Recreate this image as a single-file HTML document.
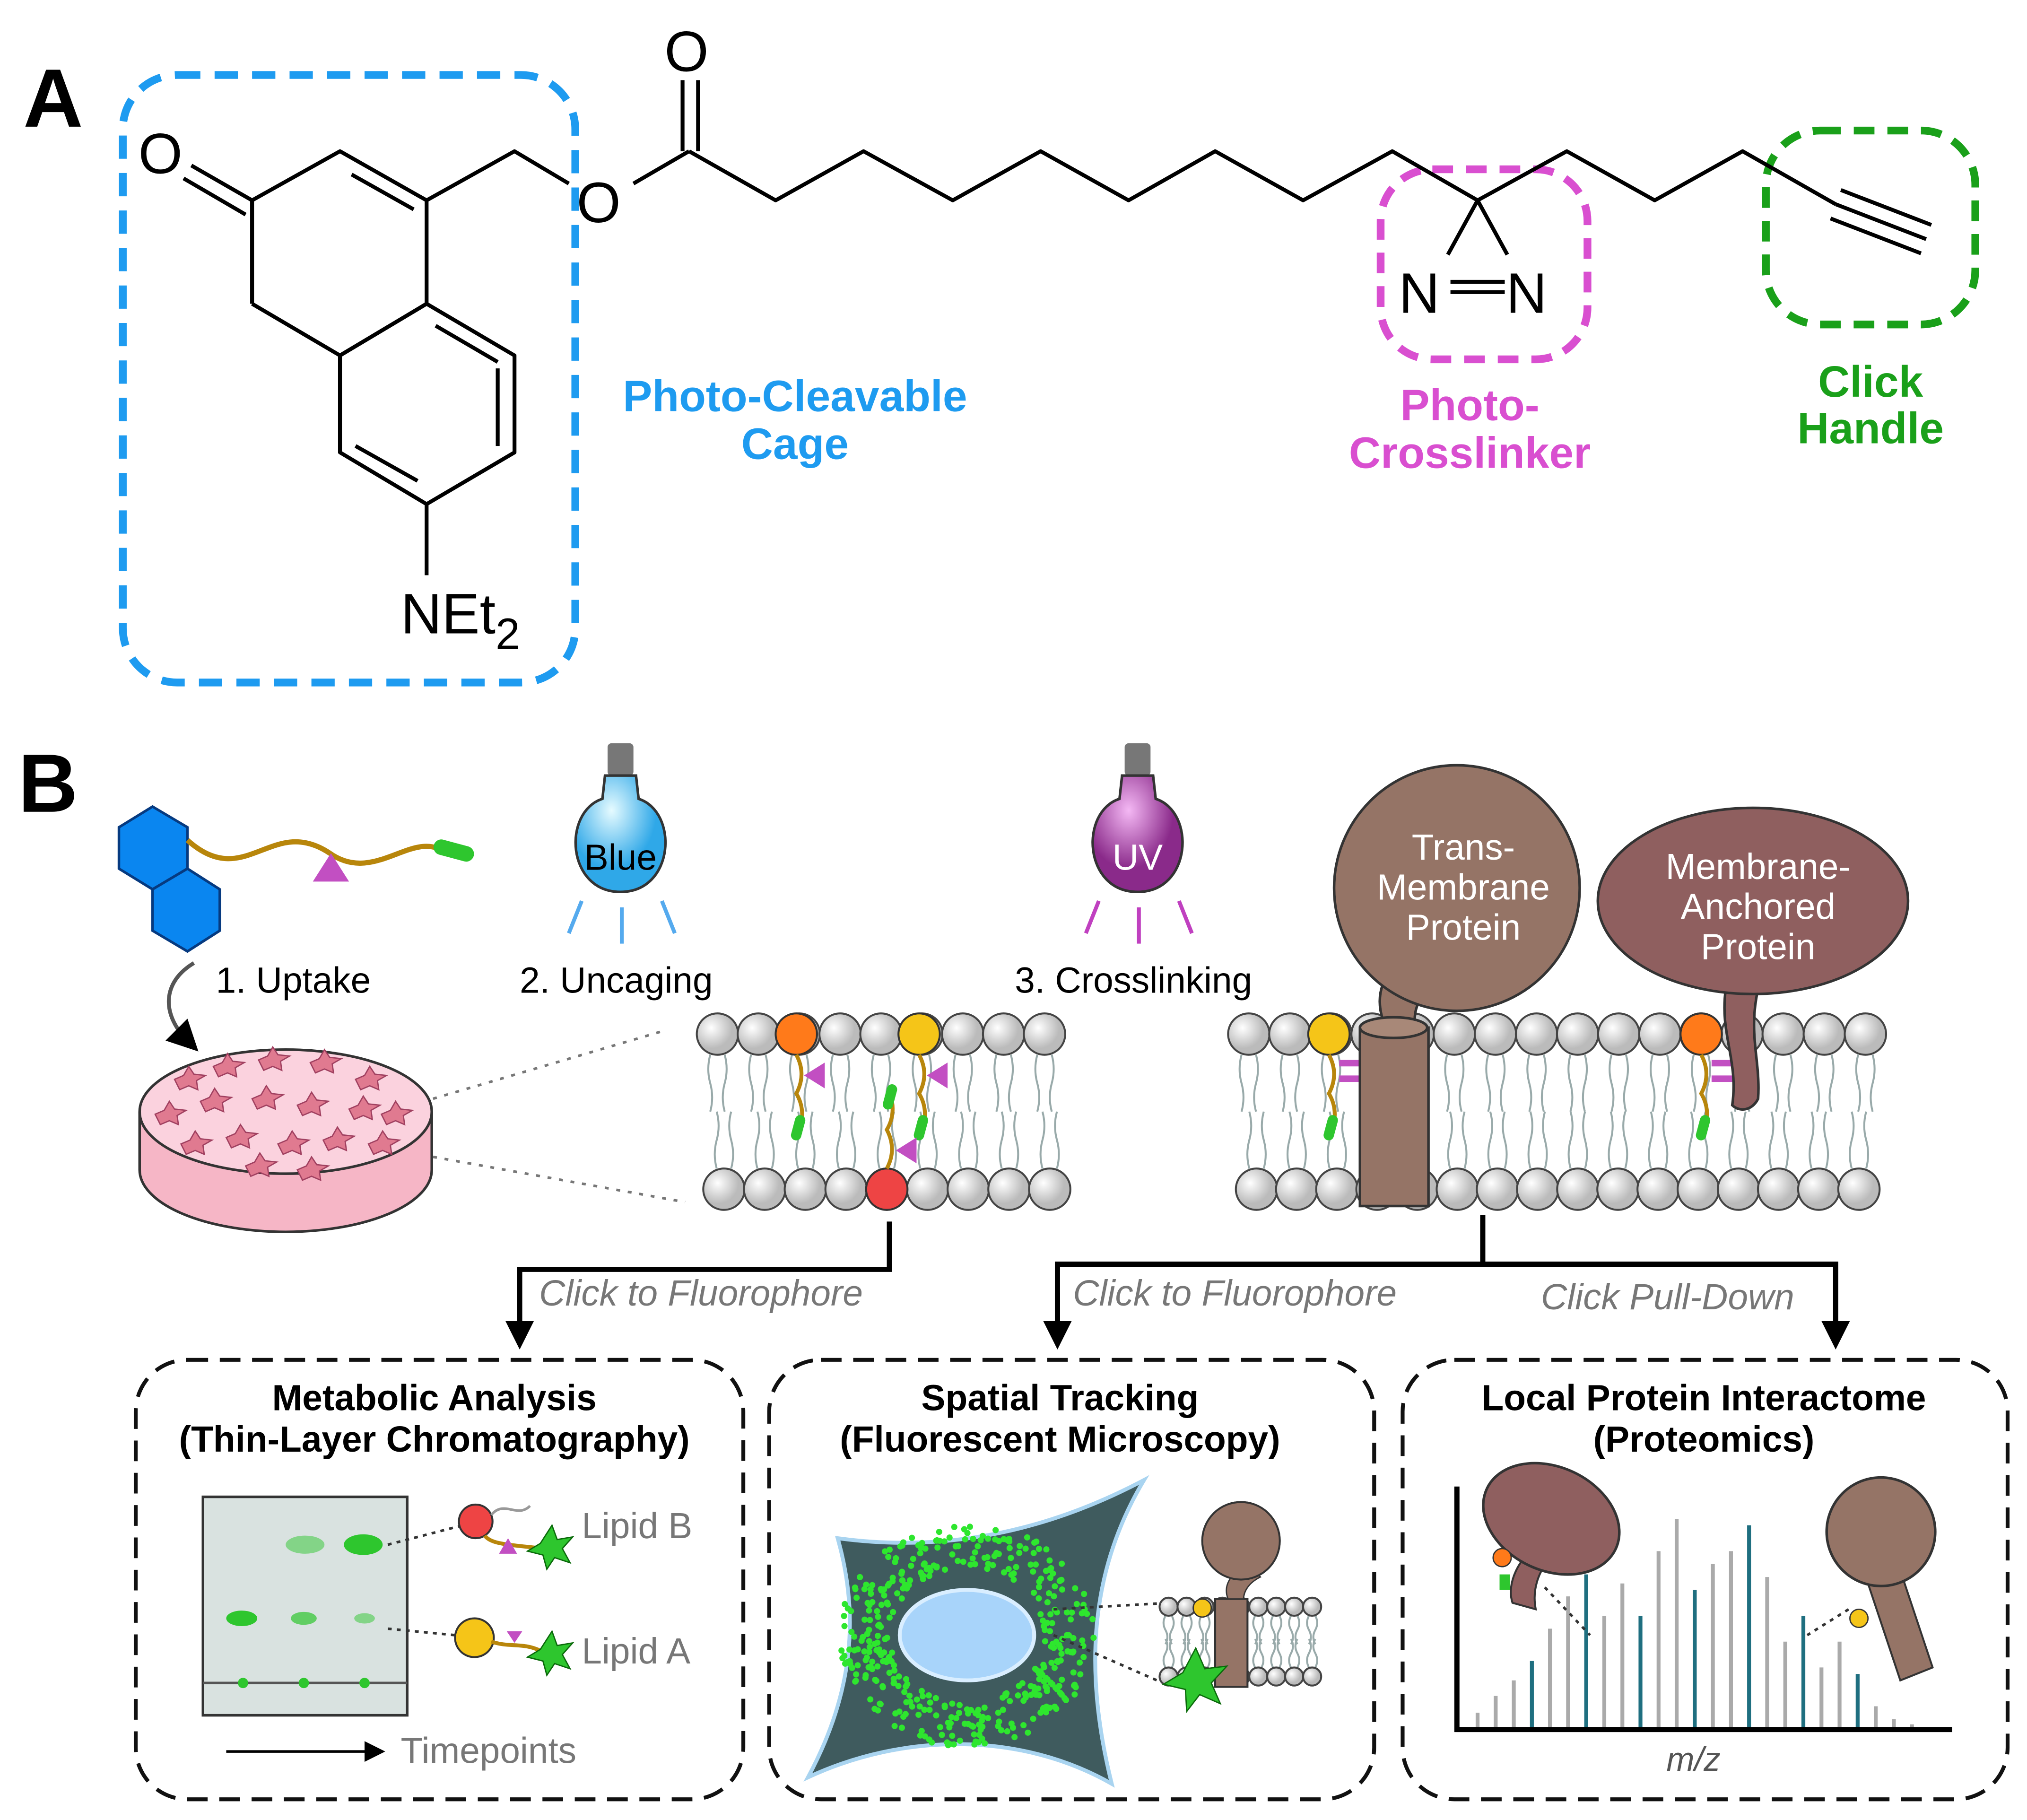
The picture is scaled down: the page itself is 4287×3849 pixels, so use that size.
<!DOCTYPE html>
<html><head><meta charset="utf-8"><style>
html,body{margin:0;padding:0;background:#fff}
svg{display:block}
text{font-family:"Liberation Sans",sans-serif}
</style></head><body>
<svg id="s" xmlns="http://www.w3.org/2000/svg" width="4287" height="3849" viewBox="0 0 1568 1408" preserveAspectRatio="none">
<defs>
<marker id="ar" markerWidth="8" markerHeight="8" refX="4" refY="4" orient="auto" markerUnits="strokeWidth"><path d="M0,0 L8,4 L0,8z" fill="#000"/></marker>
<marker id="ar2" markerWidth="24" markerHeight="24" refX="4" refY="12" orient="auto" markerUnits="userSpaceOnUse"><path d="M0,1 L22,12 L0,23z" fill="#000"/></marker>
<radialGradient id="bl" cx="0.4" cy="0.3"><stop offset="0" stop-color="#e6fbff"/><stop offset="1" stop-color="#2fa8e8"/></radialGradient>
<radialGradient id="uv" cx="0.4" cy="0.3"><stop offset="0" stop-color="#f4b8f4"/><stop offset="1" stop-color="#8a2a8a"/></radialGradient>
<radialGradient id="hd" cx="0.35" cy="0.35"><stop offset="0" stop-color="#fff"/><stop offset="1" stop-color="#bbb"/></radialGradient>
</defs>
<!-- Part A -->
<text x="18" y="98" font-size="64" font-weight="bold">A</text>
<rect x="95" y="58" width="350" height="470" rx="42" fill="none" stroke="#1e9bf0" stroke-width="6" stroke-dasharray="18,11"/>
<rect x="1068" y="131" width="160" height="147" rx="40" fill="none" stroke="#d94fd0" stroke-width="6" stroke-dasharray="16,10"/>
<rect x="1366" y="101" width="162" height="150" rx="42" fill="none" stroke="#1aa01a" stroke-width="6" stroke-dasharray="16,10"/>
<g stroke="#000" stroke-width="3" fill="none" stroke-linejoin="round">
<polyline points="195,235 195,155 263,117 330,155 330,235 263,275 195,235"/>
<line x1="272" y1="135" x2="320" y2="162"/>
<polygon points="330,235 398,275 398,350 330,390 263,350 263,275"/>
<line x1="337" y1="252" x2="385" y2="280"/><line x1="385" y1="285" x2="385" y2="345"/><line x1="275" y1="345" x2="323" y2="372"/>
<line x1="195" y1="155" x2="148" y2="128"/><line x1="190" y1="166" x2="142" y2="138"/>
<polyline points="330,155 398,117 440,142"/>
<line x1="490" y1="142" x2="533" y2="117"/>
<line x1="528" y1="117" x2="528" y2="62"/><line x1="540" y1="117" x2="540" y2="62"/>
<polyline points="533,117 600,155 668,117 737,155 805,117 873,155 940,117 1008,155 1077,117 1143,155 1212,117 1280,155 1348,117 1420,158"/>
<line x1="330" y1="390" x2="330" y2="445"/>
<line x1="1143" y1="155" x2="1120" y2="197"/><line x1="1143" y1="155" x2="1166" y2="197"/>
<line x1="1122" y1="218" x2="1164" y2="218"/><line x1="1122" y1="226" x2="1164" y2="226"/>
<line x1="1420" y1="158" x2="1490" y2="185"/><line x1="1424" y1="147" x2="1494" y2="174"/><line x1="1416" y1="169" x2="1486" y2="196"/>
</g>
<g font-size="44">
<text x="107" y="134">O</text><text x="446" y="172">O</text><text x="514" y="55">O</text>
<text x="310" y="490">NEt<tspan font-size="34" dy="12">2</tspan></text>
<text x="1082" y="242">N</text><text x="1165" y="242">N</text>
</g>
<g font-size="34" font-weight="bold" text-anchor="middle">
<text x="615" y="318" fill="#1e9bf0">Photo-Cleavable</text><text x="615" y="355" fill="#1e9bf0">Cage</text>
<text x="1137" y="325" fill="#d94fd0">Photo-</text><text x="1137" y="362" fill="#d94fd0">Crosslinker</text>
<text x="1447" y="307" fill="#1aa01a">Click</text><text x="1447" y="343" fill="#1aa01a">Handle</text>
</g>
<!-- Part B -->
<text x="14" y="628" font-size="64" font-weight="bold">B</text>
<g fill="#0a86f0" stroke="#063a80" stroke-width="2">
<polygon points="118,624 145,640 145,672 118,688 92,672 92,640"/>
<polygon points="145,672 170,688 170,720 145,736 118,720 118,688"/>
</g>
<path d="M145,650 C190,690 210,630 255,660 C290,685 320,640 345,660" stroke="#b8860b" stroke-width="4" fill="none"/>
<polygon points="256,660 242,682 270,682" fill="#c24fc2"/>
<rect x="335" y="652" width="32" height="12" rx="6" fill="#2ec62e" transform="rotate(15 351 658)"/>
<path d="M150,745 C125,760 125,785 145,805" stroke="#555" stroke-width="3" fill="none" marker-end="url(#ar)"/>
<g font-size="28">
<text x="167" y="768">1. Uptake</text><text x="402" y="768">2. Uncaging</text><text x="785" y="768">3. Crosslinking</text>
</g>
<!-- Petri dish -->
<path d="M108,860 L108,905 A113,48 0 0 0 334,905 L334,860" fill="#f6b6c6" stroke="#333" stroke-width="2"/>
<ellipse cx="221" cy="860" rx="113" ry="48" fill="#fbd2de" stroke="#333" stroke-width="2"/>
<g id="cells"></g>
<line x1="335" y1="850" x2="515" y2="797" stroke="#777" stroke-width="2" stroke-dasharray="3,6"/>
<line x1="335" y1="895" x2="530" y2="930" stroke="#777" stroke-width="2" stroke-dasharray="3,6"/>
<!-- bulbs -->
<g>
<rect x="470" y="575" width="20" height="25" rx="3" fill="#777"/>
<path d="M468,600 L492,600 L494,618 C525,628 522,690 480,690 C438,690 435,628 466,618z" fill="url(#bl)" stroke="#333" stroke-width="2"/>
<text x="480" y="673" font-size="28" text-anchor="middle">Blue</text>
<g stroke="#55aaee" stroke-width="3"><line x1="450" y1="697" x2="440" y2="722"/><line x1="481" y1="702" x2="481" y2="730"/><line x1="512" y1="697" x2="522" y2="722"/></g>
<rect x="870" y="575" width="20" height="25" rx="3" fill="#777"/>
<path d="M868,600 L892,600 L894,618 C925,628 922,690 880,690 C838,690 835,628 866,618z" fill="url(#uv)" stroke="#333" stroke-width="2"/>
<text x="880" y="673" font-size="28" text-anchor="middle" fill="#fff">UV</text>
<g stroke="#c040c0" stroke-width="3"><line x1="850" y1="697" x2="840" y2="722"/><line x1="881" y1="702" x2="881" y2="730"/><line x1="912" y1="697" x2="922" y2="722"/></g>
</g>
<g id="mem"></g>
<!-- proteins -->
<path d="M1070,790 C1060,760 1080,740 1105,730 L1115,760 C1100,765 1092,780 1095,795z" fill="#957466" stroke="#333" stroke-width="2"/>
<circle cx="1127" cy="687" r="95" fill="#957466" stroke="#333" stroke-width="2"/>
<text font-size="28" fill="#fff" text-anchor="middle"><tspan x="1132" y="665">Trans-</tspan><tspan x="1132" y="696">Membrane</tspan><tspan x="1132" y="727">Protein</tspan></text>
<rect x="1052" y="795" width="53" height="138" fill="#957466" stroke="#333" stroke-width="2"/>
<ellipse cx="1078" cy="795" rx="26" ry="8" fill="#a88878" stroke="#333" stroke-width="2"/>
<path d="M1335,765 C1330,800 1345,820 1340,855 C1345,860 1355,860 1360,850 C1362,820 1352,800 1360,765z" fill="#8f5f5f" stroke="#333" stroke-width="2"/>
<ellipse cx="1356" cy="697" rx="120" ry="72" fill="#8f5f5f" stroke="#333" stroke-width="2"/>
<text font-size="28" fill="#fff" text-anchor="middle"><tspan x="1360" y="680">Membrane-</tspan><tspan x="1360" y="711">Anchored</tspan><tspan x="1360" y="742">Protein</tspan></text>
<!-- connectors -->
<g stroke="#000" stroke-width="4" fill="none">
<polyline points="688,945 688,982 402,982 402,1026" marker-end="url(#ar2)"/>
<line x1="1147" y1="940" x2="1147" y2="978"/>
<polyline points="818,1026 818,978 1420,978 1420,1026" marker-end="url(#ar2)"/>
<line x1="818" y1="1000" x2="818" y2="1026" marker-end="url(#ar2)"/>
</g>
<g font-size="28" font-style="italic" fill="#777">
<text x="417" y="1010">Click to Fluorophore</text><text x="830" y="1010">Click to Fluorophore</text><text x="1192" y="1013">Click Pull-Down</text>
</g>
<g fill="none" stroke="#111" stroke-width="3" stroke-dasharray="16,9">
<rect x="105" y="1052" width="470" height="340" rx="40"/>
<rect x="595" y="1052" width="468" height="340" rx="40"/>
<rect x="1085" y="1052" width="468" height="340" rx="40"/>
</g>
<g font-size="28" font-weight="bold" text-anchor="middle">
<text x="336" y="1091">Metabolic Analysis</text><text x="336" y="1123">(Thin-Layer Chromatography)</text>
<text x="820" y="1091">Spatial Tracking</text><text x="820" y="1123">(Fluorescent Microscopy)</text>
<text x="1318" y="1091">Local Protein Interactome</text><text x="1318" y="1123">(Proteomics)</text>
</g>
<!-- TLC -->
<rect x="157" y="1158" width="158" height="169" fill="#d9e2e0" stroke="#333" stroke-width="2"/>
<line x1="157" y1="1302" x2="315" y2="1302" stroke="#555" stroke-width="2"/>
<g fill="#2ec62e"><circle cx="188" cy="1302" r="4"/><circle cx="235" cy="1302" r="4"/><circle cx="282" cy="1302" r="4"/>
<ellipse cx="187" cy="1252" rx="12" ry="6"/><ellipse cx="235" cy="1252" rx="10" ry="5" opacity="0.7"/><ellipse cx="282" cy="1252" rx="8" ry="4" opacity="0.5"/>
<ellipse cx="236" cy="1195" rx="15" ry="7" opacity="0.5"/><ellipse cx="281" cy="1195" rx="15" ry="8"/></g>
<line x1="300" y1="1195" x2="358" y2="1180" stroke="#333" stroke-width="2" stroke-dasharray="3,4"/>
<line x1="300" y1="1260" x2="352" y2="1265" stroke="#333" stroke-width="2" stroke-dasharray="3,4"/>
<circle cx="368" cy="1177" r="13" fill="#ee4444" stroke="#333" stroke-width="1.5"/>
<path d="M380,1172 C390,1160 400,1175 410,1165" stroke="#999" fill="none" stroke-width="2"/>
<path d="M375,1188 C380,1195 395,1195 420,1198" stroke="#b8860b" stroke-width="3" fill="none"/>
<polygon points="393,1190 386,1202 400,1202" fill="#c24fc2"/>
<polygon points="427,1180 431,1191 443,1189 435,1198 441,1209 429,1205 423,1214 420,1203 408,1200 418,1194" fill="#2ec62e" stroke="#0a6a0a"/>
<circle cx="367" cy="1267" r="15" fill="#f5c518" stroke="#333" stroke-width="1.5"/>
<path d="M380,1270 C395,1275 405,1270 420,1278" stroke="#b8860b" stroke-width="3" fill="none"/>
<polygon points="392,1262 404,1262 398,1271" fill="#c24fc2"/>
<polygon points="427,1262 431,1273 443,1271 435,1280 441,1291 429,1287 423,1296 420,1285 408,1282 418,1276" fill="#2ec62e" stroke="#0a6a0a"/>
<g font-size="28" fill="#777"><text x="450" y="1190">Lipid B</text><text x="450" y="1287">Lipid A</text><text x="310" y="1364">Timepoints</text></g>
<line x1="175" y1="1355" x2="290" y2="1355" stroke="#000" stroke-width="2" marker-end="url(#ar)"/>
<!-- cell -->
<path d="M648,1190 C720,1200 800,1190 885,1145 C840,1220 840,1300 860,1380 C790,1340 700,1340 625,1375 C660,1310 665,1250 648,1190z" fill="#3f5b5e" stroke="#a9d4f0" stroke-width="3"/>
<g id="dots"></g>
<ellipse cx="748" cy="1265" rx="52" ry="35" fill="#a8d4fa" stroke="#d9eeff" stroke-width="3"/>
<line x1="815" y1="1245" x2="905" y2="1240" stroke="#333" stroke-width="2" stroke-dasharray="3,4"/>
<line x1="815" y1="1265" x2="895" y2="1300" stroke="#333" stroke-width="2" stroke-dasharray="3,4"/>
<g id="mem3"></g>
<rect x="940" y="1237" width="25" height="68" fill="#957466" stroke="#333" stroke-width="1.5"/>
<path d="M950,1237 C945,1225 955,1215 965,1210 L975,1220 C965,1225 962,1232 962,1237z" fill="#957466" stroke="#333"/>
<circle cx="960" cy="1192" r="30" fill="#957466" stroke="#333" stroke-width="1.5"/>
<circle cx="930" cy="1244" r="7" fill="#f5c518" stroke="#333"/>
<polygon points="925,1275 932,1291 949,1289 937,1302 944,1318 928,1311 918,1324 917,1307 900,1303 915,1294" fill="#2ec62e" stroke="#0a6a0a"/>
<!-- proteomics -->
<g id="spec"></g>
<polyline points="1127,1150 1127,1338 1510,1338" stroke="#000" stroke-width="4" fill="none"/>
<text x="1310" y="1370" font-size="26" font-style="italic" fill="#555" text-anchor="middle">m/z</text>
<path d="M1170,1240 C1165,1225 1175,1205 1190,1195 L1200,1205 C1190,1215 1185,1230 1188,1245z" fill="#8f5f5f" stroke="#333" stroke-width="1.5"/>
<ellipse cx="1200" cy="1175" rx="55" ry="40" transform="rotate(25 1200 1175)" fill="#8f5f5f" stroke="#333" stroke-width="2"/>
<circle cx="1162" cy="1205" r="7" fill="#ff7a1a" stroke="#333"/>
<rect x="1160" y="1218" width="8" height="12" fill="#2ec62e"/>
<line x1="1195" y1="1228" x2="1230" y2="1265" stroke="#333" stroke-width="2" stroke-dasharray="3,4"/>
<path d="M1445,1225 L1470,1215 L1495,1290 L1470,1300z" fill="#957466" stroke="#333" stroke-width="1.5"/>
<circle cx="1455" cy="1185" r="42" fill="#957466" stroke="#333" stroke-width="2"/>
<circle cx="1438" cy="1252" r="7" fill="#f5c518" stroke="#333"/>
<line x1="1430" y1="1245" x2="1398" y2="1265" stroke="#333" stroke-width="2" stroke-dasharray="3,4"/>
</svg>
<script>
var NS="http://www.w3.org/2000/svg";
function el(p,t,a){var e=document.createElementNS(NS,t);for(var k in a)e.setAttribute(k,a[k]);document.getElementById(p).appendChild(e);return e;}
function row(p,x0,x1,y,r,dir,tl){var n=Math.round((x1-x0)/(2*r));var st=(x1-x0)/n;for(var i=0;i<=n;i++){var x=x0+i*st;
 for(var j=-1;j<=1;j+=2){var xx=x+j*r*0.35;el(p,"path",{d:"M"+xx+","+(y+dir*r)+" q"+(3*j)+","+(dir*tl/4)+" 0,"+(dir*tl/2)+" q"+(-3*j)+","+(dir*tl/4)+" 0,"+(dir*tl/2),stroke:"#9aa",fill:"none","stroke-width":1.5});}}
 for(var i=0;i<=n;i++){el(p,"circle",{cx:x0+i*st,cy:y,r:r,fill:"url(#hd)",stroke:"#444","stroke-width":1.5});}}
row("mem",555,808,800,16,1,44);row("mem",560,812,920,16,-1,44);
row("mem",966,1443,800,16,1,44);row("mem",972,1438,920,16,-1,44);
row("mem3",904,1015,1243,7,1,22);row("mem3",904,1015,1297,7,-1,22);
function lip(x,y,c,d){el("mem","circle",{cx:x,cy:y,r:16,fill:c,stroke:"#333","stroke-width":1.5});
 el("mem","path",{d:"M"+x+","+(y+d*16)+" q8,"+(d*15)+" 0,"+(d*30)+" q6,"+(d*10)+" 4,"+(d*22),stroke:"#b8860b","stroke-width":3,fill:"none"});
 el("mem","rect",{x:x-2,y:d>0?y+d*62:y+d*82,width:8,height:20,rx:4,fill:"#2ec62e",transform:"rotate(15 "+x+" "+(y+d*70)+")"});}
lip(616,800,"#ff7a1a",1);lip(711,800,"#f5c518",1);lip(686,920,"#ee4444",-1);lip(1028,800,"#f5c518",1);lip(1316,800,"#ff7a1a",1);
[[632,832],[727,832],[703,890]].forEach(function(p){el("mem","polygon",{points:(p[0]-10)+","+p[1]+" "+(p[0]+6)+","+(p[1]-10)+" "+(p[0]+6)+","+(p[1]+10),fill:"#c24fc2"});});
[[1044,820],[1044,832],[1332,820],[1332,832]].forEach(function(p){el("mem","rect",{x:p[0]-8,y:p[1],width:28,height:5,fill:"#c24fc2"});});
var cp=[[145,835],[175,825],[210,820],[250,822],[285,835],[130,862],[165,852],[205,850],[240,855],[280,858],[305,862],[150,885],[185,880],[225,885],[260,882],[295,885],[200,902],[240,905]];
cp.forEach(function(c){var cx=c[0],cy=c[1];el("cells","path",{d:"M"+(cx-10)+","+cy+" l7,-3 l4,-7 l4,6 l9,1 l-7,4 l1,7 l-7,-3 l-7,3z",fill:"#e07a90",stroke:"#a04060"});});
var seed=7;function rnd(){seed=(seed*9301+49297)%233280;return seed/233280;}
for(var i=0;i<420;i++){var a=rnd()*6.283,rr=1.15+rnd()*0.75;var x=748+Math.cos(a)*52*rr,y=1265+Math.sin(a)*35*rr*1.3;el("dots","circle",{cx:x,cy:y,r:2.4,fill:"#2ee62e"});}
var bars=[[1143,1325],[1157,1312],[1171,1300],[1185,1285,1],[1199,1260],[1213,1235],[1227,1218,1],[1241,1250],[1255,1225],[1269,1250,1],[1283,1200],[1297,1175],[1311,1230,1],[1325,1210],[1339,1200],[1353,1180,1],[1367,1220],[1381,1270],[1395,1250,1],[1409,1290],[1423,1270],[1437,1295,1],[1451,1320],[1465,1330],[1479,1334]];
bars.forEach(function(b){el("spec","line",{x1:b[0],y1:1338,x2:b[0],y2:b[1],stroke:b[2]?"#1f6f80":"#aaa","stroke-width":3});});
</script>
</body></html>
